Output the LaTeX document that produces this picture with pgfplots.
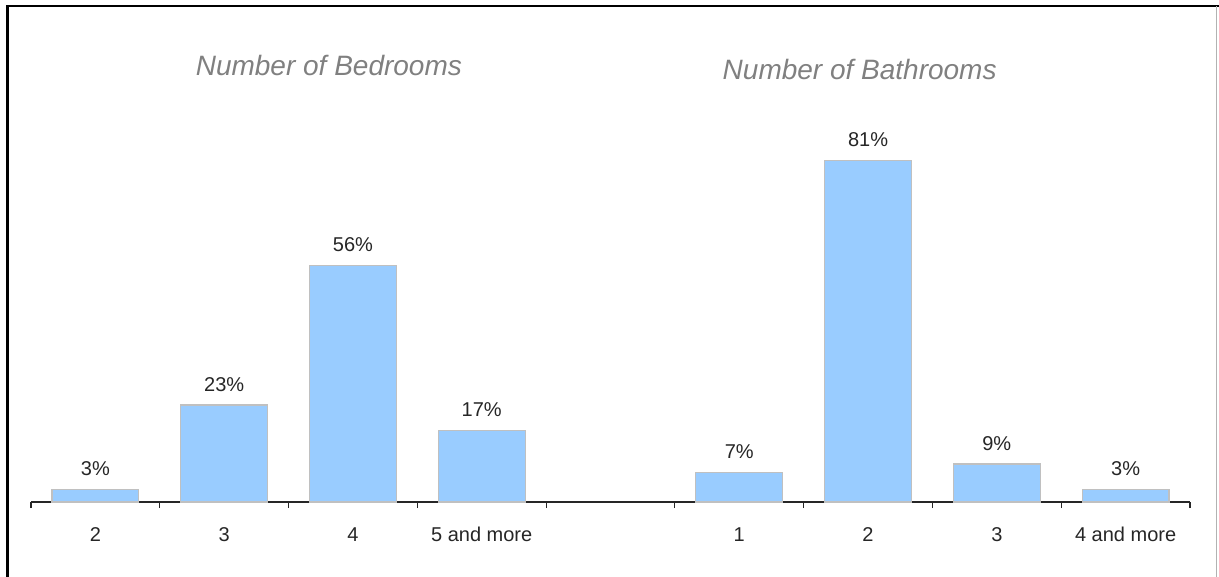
\documentclass[border=0pt]{standalone}
\usepackage{fontspec}
\setmainfont{Liberation Sans}
\usepackage{pgfplots}
\pgfplotsset{compat=1.18}
\definecolor{barblue}{HTML}{99CCFF}
\definecolor{bargray}{HTML}{C0C0C0}
\definecolor{titlegray}{HTML}{808080}
\begin{document}
\begin{tikzpicture}
\useasboundingbox (0,0) rectangle (609.5pt,288.5pt);
\begin{axis}[
  at={(15.5pt,37.5pt)}, anchor=south west,
  scale only axis, width=579.5pt, height=211pt,
  xmin=-0.5, xmax=8.5, ymin=0, ymax=100,
  axis y line=none, axis x line=bottom,
  x axis line style={-, draw=black!85, line width=0.6pt},
  xtick={0,1,2,3,5,6,7,8},
  xticklabels={2,3,4,5 and more,1,2,3,4 and more},
  major x tick style={draw=none},
  major tick length=0pt,
  minor xtick={-0.5,0.5,1.5,2.5,3.5,4.5,5.5,6.5,7.5,8.5},
  minor tick length=3pt,
  minor x tick style={draw=black!85, line width=0.6pt},
  xtick align=outside,
  xticklabel style={font=\fontsize{10pt}{12pt}\selectfont, text=black!85, inner sep=0pt, anchor=north, yshift=-12.5pt, text height=7.2pt, text depth=0pt},
  /pgf/number format/assume math mode=true,
  ybar, bar width=0.675,
  nodes near coords={\pgfmathprintnumber{\pgfplotspointmeta}\%},
  every node near coord/.append style={font=\fontsize{10pt}{12pt}\selectfont, text=black!85, inner sep=0pt, anchor=south, yshift=6.5pt},
  clip=false,
]
\addplot[fill=barblue, draw=bargray, line width=0.6pt] coordinates {
  (0,3) (1,23) (2,56) (3,17) (5,7) (6,81) (7,9) (8,3)
};
\node[font=\itshape\fontsize{14pt}{16pt}\selectfont, text=titlegray] at (rel axis cs:0.257,1.035) {Number of Bedrooms};
\node[font=\itshape\fontsize{14pt}{16pt}\selectfont, text=titlegray] at (rel axis cs:0.715,1.026) {Number of Bathrooms};
\end{axis}
\draw[black, line width=1.1pt] (3.75pt,0) -- (3.75pt,285.3pt) -- (609.5pt,285.3pt);
\draw[black!30, line width=0.6pt] (608.2pt,0) -- (608.2pt,285.3pt);
\end{tikzpicture}
\end{document}
